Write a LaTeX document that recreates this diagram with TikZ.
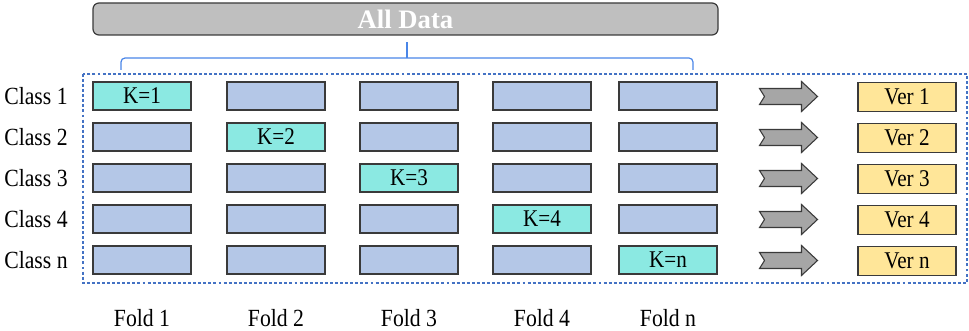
\documentclass[tikz,border=0pt]{standalone}
\usepackage{fontspec}
\setmainfont{Liberation Serif}
\newfontfamily\condfont[FakeStretch=0.88]{Liberation Serif}
\usepackage{xcolor}
\definecolor{barGray}{HTML}{BFBFBF}
\definecolor{edgeDark}{HTML}{3A3A3A}
\definecolor{cellBlue}{HTML}{B4C7E7}
\definecolor{testCyan}{HTML}{8BE9E2}
\definecolor{verYellow}{HTML}{FFE699}
\definecolor{arrowGray}{HTML}{A6A6A6}
\definecolor{frameBlue}{HTML}{4472C4}
\definecolor{braceBlue}{HTML}{4A86E8}
\usetikzlibrary{positioning, calc}

\begin{document}
\begin{tikzpicture}[x=0.75pt, y=-0.75pt,
    cell/.style={draw=edgeDark, fill=cellBlue, line width=0.9pt, minimum width=73.5pt, minimum height=21pt, inner sep=0pt, font=\condfont\fontsize{18}{21}\selectfont},
    testcell/.style={cell, fill=testCyan},
    verbox/.style={cell, fill=verYellow, minimum height=21.5pt},
    label/.style={font=\condfont\fontsize{18.5}{22}\selectfont, inner sep=0pt},
    databar/.style={draw=edgeDark, fill=barGray, line width=0.9pt, rounded corners=4.5pt, minimum width=468.75pt, minimum height=24pt, inner sep=0pt, text=white, font=\fontsize{20}{24}\selectfont\bfseries},
    blockarrow/.style={draw=edgeDark, fill=arrowGray, line width=0.8pt, line join=miter},
    bracket/.style={draw=braceBlue, line width=0.9pt, rounded corners=3pt}]
    \useasboundingbox (0,0) rectangle (969,331);

    % Barra superior
    \node[databar] (alldata) at (405.5,19) {All Data};

    % Llave bajo la barra
    \draw[bracket] (121,70) |- (693,58) -- (693,70);
    \draw[draw=braceBlue, line width=0.9pt] (407,58) -- (407,42);

    % Marco discontinuo
    \draw[draw=frameBlue, line width=0.8pt, dash pattern=on 2.2pt off 1.6pt] (83,74) rectangle (967,283);

    % Filas: etiquetas, celdas, flechas y versiones
    \foreach \y/\r in {96/1, 137/2, 178/3, 219/4, 260/n} {
        \node[label] (class\r) at (36,\y) {Class \r};
        \foreach \x/\f in {142/1, 276/2, 409/3, 542/4, 668/n} {
            \ifx\r\f
                \node[testcell] (c\r\f) at (\x,\y) {K=\r};
            \else
                \node[cell] (c\r\f) at (\x,\y) {};
            \fi
        }
        \node[verbox] (ver\r) at (907,\y+1) {Ver \r};
        \coordinate (mid\r) at ($(c\r n.east)!0.5!(ver\r.west)$);
        \draw[blockarrow, shift={(mid\r)}] (-28,-8) -- (14,-8) -- (14,-15) -- (30,0)
            -- (14,15) -- (14,8) -- (-28,8) -- (-23,0) -- cycle;
    }

    % Etiquetas de los pliegues
    \foreach \x/\f in {142/1, 276/2, 409/3, 542/4, 668/n}
        \node[label] (fold\f) at (\x,318) {Fold \f};
\end{tikzpicture}
\end{document}
